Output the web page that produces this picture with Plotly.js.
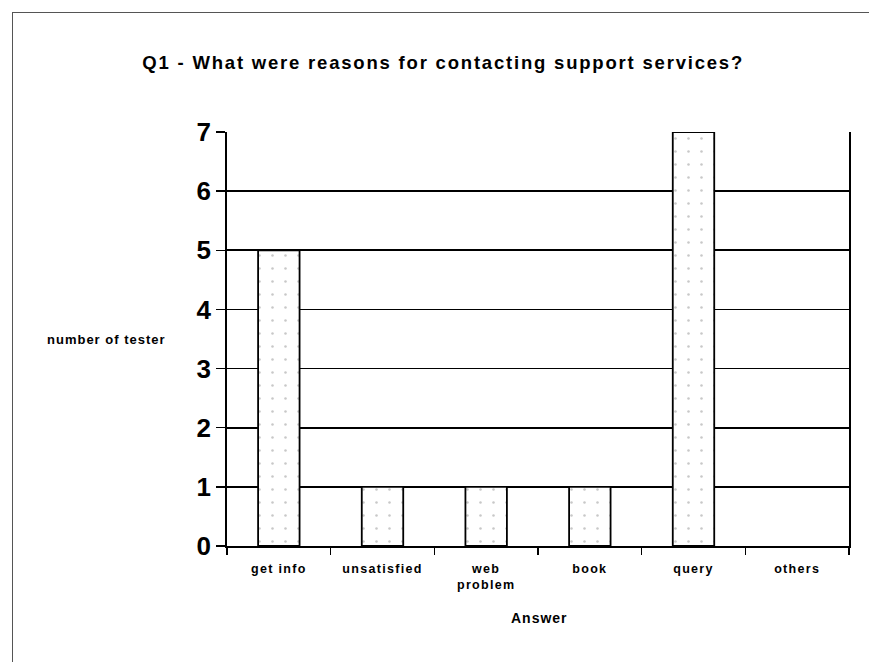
<!DOCTYPE html>
<html>
<head>
<meta charset="utf-8">
<script src="https://cdn.plot.ly/plotly-3.0.1.min.js"></script>
<style>
  html, body { margin: 0; padding: 0; background: #fff; }
  #frame { position: absolute; left: 12px; top: 12px; width: 880px; height: 680px;
           border-left: 1px solid #555; border-top: 1px solid #555; }
  #chart { position: absolute; left: 0; top: 0; width: 869px; height: 662px; }
</style>
</head>
<body>
<div id="frame"></div>
<div id="chart"></div>
<script>
const categories = ["get info", "unsatisfied", "web<br>problem", "book", "query", "others"];
const values = [5, 1, 1, 1, 7, 0];
const yTicks = [0, 1, 2, 3, 4, 5, 6, 7];

const font = "Liberation Sans, Arial, sans-serif";

const trace = {
  type: "bar",
  x: categories,
  y: values,
  width: 0.4,
  marker: {
    color: "#ffffff",
    line: { color: "#000000", width: values.map(v => v > 0 ? 1.8 : 0) },
    pattern: { shape: ".", fgcolor: "#c8c8c8", bgcolor: "#ffffff", size: 13, solidity: 0.03 }
  },
  hoverinfo: "skip"
};

const layout = {
  width: 869, height: 662,
  paper_bgcolor: "rgba(0,0,0,0)",
  plot_bgcolor: "#ffffff",
  margin: { l: 227, r: 20, t: 132, b: 116 },
  showlegend: false,
  title: {
    text: "Q1 - What were reasons for contacting support services?",
    font: { family: font, size: 18.5, color: "#000", weight: "bold" },
    x: 0.51, xanchor: "center", y: 0.906, yanchor: "middle"
  },
  xaxis: {
    type: "category",
    showline: true, linecolor: "#000", linewidth: 1.8,
    ticks: "outside", ticklen: 7, tickcolor: "#000", tickwidth: 1.5,
    tickson: "boundaries",
    ticklabelstandoff: 10,
    showgrid: false,
    tickfont: { family: font, size: 12.5, color: "#000", weight: "bold" }
  },
  yaxis: {
    range: [0, 7],
    tickvals: yTicks,
    ticktext: yTicks.map(String),
    showline: true, mirror: true, linecolor: "#000", linewidth: 1.8,
    ticks: "outside", ticklen: 9, tickcolor: "#000", tickwidth: 1.5,
    showgrid: true, gridcolor: "#000", gridwidth: 1.8,
    zeroline: false,
    tickfont: { family: font, size: 26, color: "#000", weight: "bold" }
  },
  yaxis2: {
    overlaying: "y", side: "left",
    range: [0, 7],
    tickvals: yTicks,
    showticklabels: false,
    ticks: "inside", ticklen: 5, tickcolor: "#000", tickwidth: 1.5,
    showgrid: false, zeroline: false, showline: false
  },
  annotations: [{
    text: "number of tester",
    xref: "paper", yref: "paper",
    x: -0.108, y: 0.498, xanchor: "right", yanchor: "middle",
    showarrow: false,
    font: { family: font, size: 13, color: "#000", weight: "bold" }
  }, {
    text: "Answer",
    xref: "paper", yref: "paper",
    x: 0.503, y: -0.174, xanchor: "center", yanchor: "middle",
    showarrow: false,
    font: { family: font, size: 14, color: "#000", weight: "bold" }
  }]
};

Plotly.newPlot("chart", [trace], layout, { displayModeBar: false, staticPlot: true }).then(gd => {
  gd.querySelectorAll(".gtitle").forEach(t => t.style.letterSpacing = "1.8px");
  gd.querySelectorAll(".xtick text").forEach(t => t.style.letterSpacing = "1.3px");
  gd.querySelectorAll(".annotation-text").forEach(t => t.style.letterSpacing = "1px");
});
</script>
</body>
</html>
